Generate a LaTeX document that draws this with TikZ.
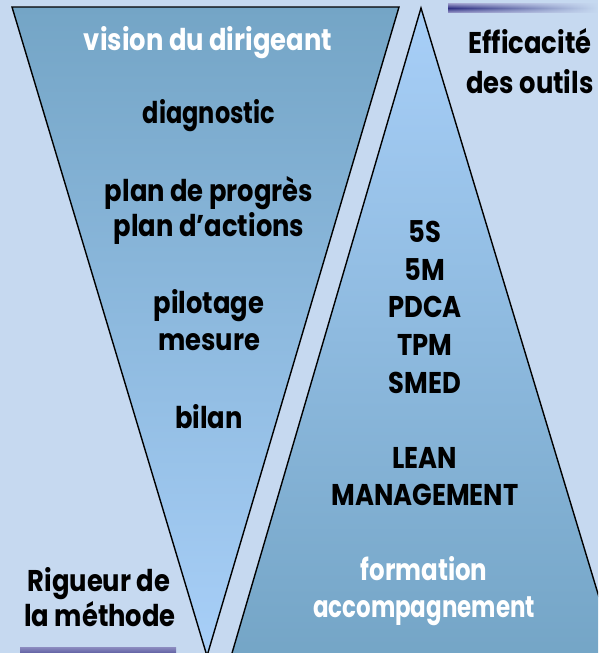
\documentclass[tikz,border=0pt]{standalone}
\usepackage{fontspec}
\setmainfont{Poppins}[FakeStretch=0.86]
\usetikzlibrary{fadings}
\definecolor{bg}{HTML}{C6D9F0}
\definecolor{darkb}{HTML}{74A5C6}
\definecolor{lightb}{HTML}{A8CFF8}
\definecolor{navy}{HTML}{2E2E82}
\definecolor{navylight}{HTML}{8C8CC0}
\tikzset{
  lbl/.style={anchor=base, inner sep=0pt, font=\fontsize{30}{37}\selectfont\bfseries, text=black},
  wlbl/.style={lbl, text=white},
  tri/.style={draw=black, line width=1.4pt, line join=miter},
}
\begin{document}
\begin{tikzpicture}[x=1pt,y=-1pt]
\useasboundingbox (0,0) rectangle (598,653);
\fill[bg] (0,0) rectangle (598,653);
\begin{scope}
\clip (0,0) rectangle (598,653);
% left inverted triangle
\shade[top color=darkb, bottom color=lightb] (12,7) -- (399,7) -- (207,656) -- cycle;
\draw[tri] (12,7) -- (399,7) -- (207,656) -- cycle;
% right upright triangle
\shade[top color=lightb, bottom color=darkb] (421,8) -- (618,660) -- (230,660) -- cycle;
\draw[tri] (230,660) -- (421,8) -- (618,660);
% decorative bars
\shade[top color=navylight, bottom color=navylight, middle color=navy, path fading=east] (448,4) rectangle (598,12);
\shade[top color=navylight, bottom color=navy] (20,647) rectangle (176,660);
\end{scope}
% left texts
\node[wlbl] (t1) at (208,50) {vision du dirigeant};
\node[lbl] (t2) at (209,123) {\scalebox{0.93}[1]{diagnostic}};
\node[lbl] (t3) at (209,201) {plan de progrès};
\node[lbl] (t4) at (209,236) {plan d’actions};
\node[lbl] (t5) at (209,313) {pilotage};
\node[lbl] (t6) at (209,350) {mesure};
\node[lbl] (t7) at (209,428) {bilan};
% right texts
\node[lbl] (r1) at (425,242) {5S};
\node[lbl] (r2) at (425,280) {5M};
\node[lbl] (r3) at (425,317) {PDCA};
\node[lbl] (r4) at (425,355) {TPM};
\node[lbl] (r5) at (425,393) {SMED};
\node[lbl] (r6) at (425,468) {LEAN};
\node[lbl] (r7) at (425,505) {MANAGEMENT};
\node[wlbl] (r8) at (424,580) {\scalebox{0.95}[1]{formation}};
\node[wlbl] (r9) at (424,617) {\scalebox{0.89}[1]{accompagnement}};
% side captions
\node[lbl] (c1) at (530,53) {Efficacité};
\node[lbl] (c2) at (530,93) {des outils};
\node[lbl] (c3) at (99,591) {Rigueur de};
\node[lbl] (c4) at (100,626) {la méthode};
\end{tikzpicture}
\end{document}
